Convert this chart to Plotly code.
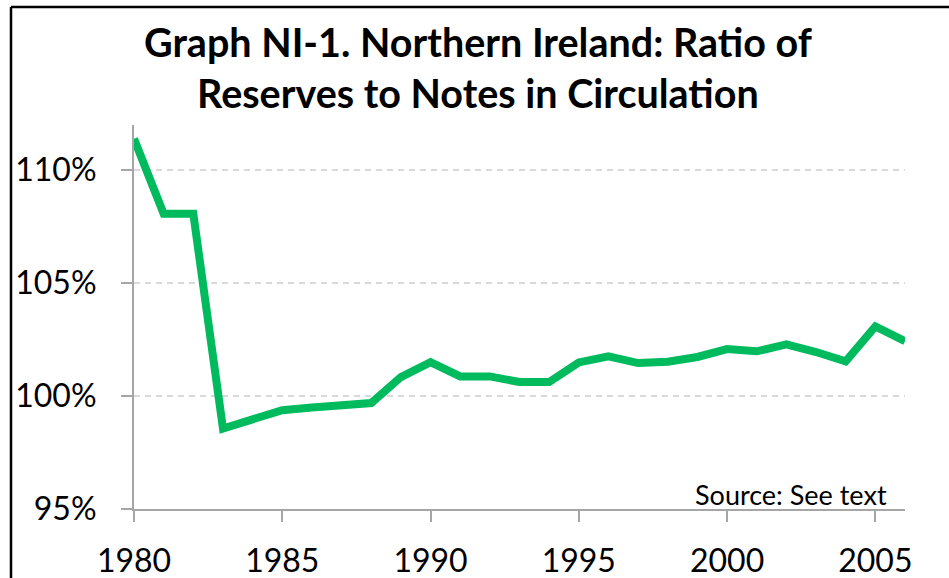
import plotly.graph_objects as go

years = list(range(1980, 2007))
ratio = [111.39, 108.07, 108.07, 98.56, 98.97, 99.37, 99.49, 99.59, 99.69, 100.84,
         101.50, 100.87, 100.87, 100.62, 100.62, 101.49, 101.76, 101.46, 101.52, 101.73,
         102.08, 101.98, 102.29, 101.95, 101.54, 103.08, 102.43]

title_text = "Graph NI-1. Northern Ireland: Ratio of<br>Reserves to Notes in Circulation"
source_text = "Source: See text"
y_ticks = [95, 100, 105, 110]
y_tick_labels = ["95%", "100%", "105%", "110%"]
x_ticks = [1980, 1985, 1990, 1995, 2000, 2005]

W, H = 949, 578
L, R, T, B = 134, 44, 125, 69
pw, ph = W - L - R, H - T - B

def px_x(x):
    return (x - L) / pw

def px_y(y):
    return (H - B - y) / ph

fig = go.Figure()
fig.add_trace(go.Scatter(x=years, y=ratio, mode="lines",
                         line=dict(color="#00BA5E", width=8), hoverinfo="x+y"))

axis_col = "#A6A6A6"
font_fam = "Lato, Open Sans, sans-serif"
tick_font = dict(family=font_fam, size=32, color="#000000")

fig.update_layout(
    width=W, height=H,
    margin=dict(l=L, r=R, t=T, b=B, autoexpand=False),
    paper_bgcolor="white", plot_bgcolor="white",
    showlegend=False,
    xaxis=dict(range=[1980, 2006], tickvals=x_ticks, ticks="outside", ticklen=11,
               tickwidth=2, tickcolor=axis_col, showline=True, linecolor=axis_col,
               linewidth=2, showgrid=False, zeroline=False, tickfont=tick_font,
               ticklabelstandoff=12),
    yaxis=dict(range=[95, 112], tickvals=y_ticks, ticktext=y_tick_labels, ticks="outside",
               ticklen=11, tickwidth=2, tickcolor=axis_col, showline=True,
               linecolor=axis_col, linewidth=2, showgrid=True, gridcolor="#D9D9D9",
               gridwidth=1.5, griddash="6px,5px", zeroline=False, tickfont=tick_font,
               ticklabelstandoff=18),
    annotations=[
        dict(text=title_text, xref="paper", yref="paper", x=px_x(478), y=px_y(16),
             xanchor="center", yanchor="top", showarrow=False, align="center",
             font=dict(family=font_fam, size=39.5, color="#000000", weight="bold")),
        dict(text=source_text, xref="paper", yref="paper",
             x=px_x(889), y=px_y(509), xanchor="right", yanchor="bottom",
             showarrow=False, yshift=-4,
             font=dict(family=font_fam, size=27, color="#000000")),
    ],
    shapes=[
        dict(type="line", xref="paper", yref="paper",
             x0=px_x(11), x1=px_x(11), y0=px_y(7), y1=px_y(H + 5),
             line=dict(color="#000000", width=2.5)),
        dict(type="line", xref="paper", yref="paper",
             x0=px_x(11), x1=px_x(W + 5), y0=px_y(7), y1=px_y(7),
             line=dict(color="#000000", width=2.5)),
    ],
)

fig.write_html("out.html", config={"displayModeBar": False},
               post_script="document.body.style.margin='0px';document.body.style.overflow='hidden';")
